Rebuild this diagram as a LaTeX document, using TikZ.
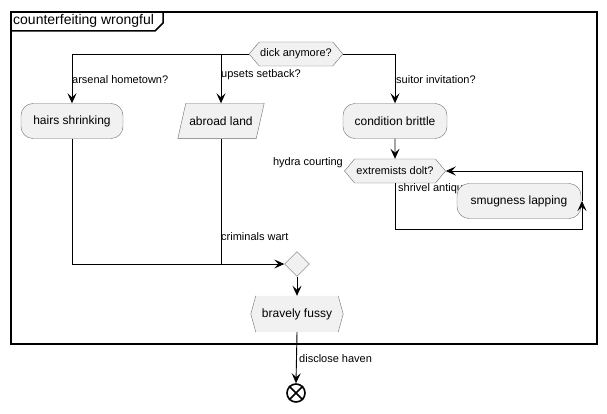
\documentclass[tikz,border=0pt]{standalone}
\usepackage{fontspec}
\setmainfont{Liberation Sans}
\usetikzlibrary{arrows.meta,calc,positioning,shapes,shapes.geometric,backgrounds}
\definecolor{boxfill}{HTML}{F1F1F1}
\definecolor{boxline}{HTML}{6E6E6E}

\begin{document}
\begin{tikzpicture}[x=1pt,y=-1pt,
  act/.style={draw=boxline,fill=boxfill,rounded corners=12pt,minimum height=35pt,
    font=\fontsize{12}{14}\selectfont,inner sep=0pt},
  ask/.style={draw=boxline,fill=boxfill,signal,signal to=west and east,signal pointer angle=100,
    minimum height=24pt,font=\fontsize{11}{13}\selectfont,inner sep=1pt},
  io/.style={minimum height=35pt,font=\fontsize{12}{14}\selectfont,inner sep=0pt},
  lbl/.style={font=\fontsize{11}{13}\selectfont,inner sep=0pt},
  flow/.style={line width=0.9pt,-{Stealth[length=10pt,width=9pt,inset=4pt]}},
  link/.style={line width=0.9pt}
  ]

  \useasboundingbox (0,0) rectangle (607,414);

  % frame
  \draw[line width=1.5pt] (11,12) rectangle (597,344);
  \draw[line width=1.5pt] (11,31) -- (155,31) -- (163,23) -- (163,12);
  \node[anchor=west,inner sep=0pt,font=\fontsize{14}{16}\selectfont] (ttl) at (13,21) {counterfeiting wrongful};

  % nodes
  \node[ask,minimum width=93pt] (q1) at (296,54) {dick anymore?};
  \node[act,minimum width=102pt] (hs) at (72,121) {hairs shrinking};
  \node[io,minimum width=78pt] (al) at (221,121) {abroad land};
  \node[act,minimum width=104pt] (cb) at (395,121) {condition brittle};
  \node[ask,minimum width=101pt] (q2) at (395,171) {extremists dolt?};
  \node[lbl,anchor=west] (sa) at (398,189) {shrivel antique};
  \node[act,minimum width=124pt] (sl) at (519,201) {smugness lapping};
  \node[draw=boxline,fill=boxfill,diamond,minimum size=25pt,inner sep=0pt] (mg) at (297,264) {};
  \node[minimum width=82pt,minimum height=36pt,inner sep=0pt,font=\fontsize{12}{14}\selectfont] (bf) at (297,314) {bravely fussy};
  \node[draw,circle,line width=1.6pt,minimum size=18pt,inner sep=0pt] (fin) at (296,393) {};
  \draw[line width=1.6pt] (fin.north west) -- (fin.south east) (fin.north east) -- (fin.south west);

  \begin{scope}[on background layer]
    \draw[boxline,fill=boxfill] ($(al.south west)+(-4,0)$) -- ($(al.north west)+(4,0)$)
      -- ($(al.north east)+(4,0)$) -- ($(al.south east)+(-4,0)$) -- cycle;
    \fill[boxfill] (bf.north west) -- ($(bf.west)+(-5,0)$) -- (bf.south west) -- (bf.south east)
      -- ($(bf.east)+(5,0)$) -- (bf.north east) -- cycle;
  \end{scope}
  \draw[boxline] (bf.north west) -- ($(bf.west)+(-5,0)$) -- (bf.south west);
  \draw[boxline] (bf.north east) -- ($(bf.east)+(5,0)$) -- (bf.south east);

  % labels
  \node[lbl,anchor=west] (l1) at (72,80) {arsenal hometown?};
  \node[lbl,anchor=west] (l2) at (221,75) {upsets setback?};
  \node[lbl,anchor=west] (l3) at (396,80) {suitor invitation?};
  \node[lbl,anchor=east] (l4) at (343,163) {hydra courting};
  \node[lbl,anchor=west] (l5) at (221,237) {criminals wart};
  \node[lbl,anchor=west] (l6) at (299,359) {disclose haven};

  % connectors
  \coordinate (lp) at (582,229);
  \draw[flow] (q1.west) -| (hs.north);
  \draw[flow] (q1.west) -| (al.north);
  \draw[flow] (q1.east) -| (cb.north);
  \draw[flow] (cb) -- (q2);
  \draw[flow] (q2.south) |- (lp) -- (lp |- sl.east);
  \draw[flow] (lp |- sl.east) -- (lp |- q2.east) -- (q2.east);
  \draw[flow] (hs.south) |- (mg.west);
  \draw[link] (al.south) -- (al.south |- mg.west);
  \draw[flow] (mg.south) -- (bf.north);
  \draw[flow] (bf.south) -- (fin.north);

\end{tikzpicture}
\end{document}
